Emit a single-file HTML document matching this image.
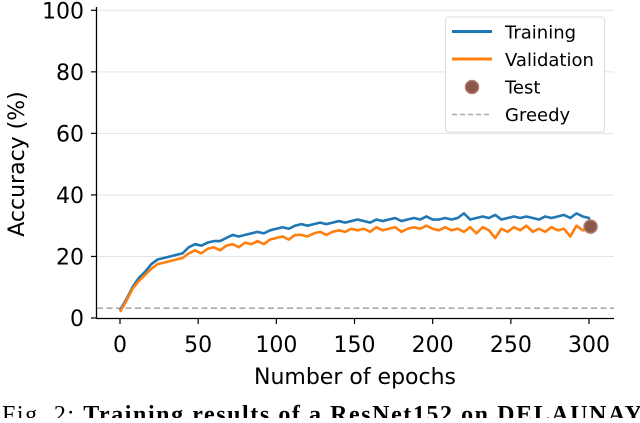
<!DOCTYPE html>
<html><head><meta charset="utf-8"><style>
body{margin:0;background:#fff;width:640px;height:418px;overflow:hidden}
svg text{font-family:"DejaVu Sans","Liberation Sans",sans-serif}
</style></head><body>
<svg id="chart" width="640" height="418" viewBox="0 0 640 418" xmlns="http://www.w3.org/2000/svg">
<g id="grid"></g>
<line x1="96.5" y1="7" x2="96.5" y2="318.5" stroke="#000" stroke-width="1.3"/>
<line x1="96" y1="318.5" x2="614" y2="318.5" stroke="#000" stroke-width="1.3"/>
<g id="ticks"></g>
<g id="series"></g>
<text x="24" y="164" font-size="22" text-anchor="middle" transform="rotate(-90 24 164)">Accuracy (%)</text>
<text x="355" y="384" font-size="22" text-anchor="middle">Number of epochs</text>
<g>
<rect x="445.5" y="17" width="159" height="115" rx="3" fill="#fff" stroke="#ddd" stroke-width="1"/>
<line x1="452" y1="31.5" x2="492" y2="31.5" stroke="#1f77b4" stroke-width="3"/>
<text x="505" y="38.5" font-size="18">Training</text>
<line x1="452" y1="59" x2="492" y2="59" stroke="#ff7f0e" stroke-width="3"/>
<text x="505" y="66" font-size="18">Validation</text>
<circle cx="472" cy="87" r="6.5" fill="#8c564b" stroke="#b07a6f" stroke-width="1.5"/>
<text x="505" y="93.5" font-size="18">Test</text>
<line x1="452" y1="114.5" x2="492" y2="114.5" stroke="#aaa" stroke-width="1.5" stroke-dasharray="5,3"/>
<text x="505" y="121" font-size="18">Greedy</text>
</g>
<text x="2" y="422" font-size="24" textLength="640" lengthAdjust="spacing" style="font-family:'Liberation Serif',serif">Fig. 2: <tspan font-weight="bold">Training results of a ResNet152 on DELAUNAY</tspan></text>
</svg>
<script>
const epochStep = 4;
const trainAcc = [2.5,6,10,13,15,17.5,19,19.5,20,20.5,21,23,24,23.5,24.5,25,25,26,27,26.5,27,27.5,28,27.5,28.5,29,29.5,29,30,30.5,30,30.5,31,30.5,31,31.5,31,31.5,32,31.5,31,32,31.5,32,32.5,31.5,32,32.5,32,33,32,32,32.5,32,32.5,34,32,32.5,33,32.5,33.5,32,32.5,33,32.5,33,32.5,32,33,32.5,33,33.5,32.5,34,33,32.5,32];
const valAcc = [2,5.5,9.5,12,14,16,17.5,18,18.5,19,19.5,21,22,21,22.5,23,22,23.5,24,23,24.5,24,25,24,25.5,26,26.5,25.5,27,27,26.5,27.5,28,27,28,28.5,28,29,28.5,29,28,29.5,28.5,29,29.5,28,29,29.5,29,30,29,28.5,29.5,28.5,29,28,29.5,27.5,29.5,28.5,26,29,28,29.5,28.5,30,28,29,28,29.5,28.5,29,26.5,30,28.5,29,29.5];
const testEpoch = [301];
const testAcc = [29.7];
const greedyAcc = [3.2];
const yTicks = [0,20,40,60,80,100];
const xTicks = [0,50,100,150,200,250,300];

const NS="http://www.w3.org/2000/svg";
function X(e){return 120+e*(589-120)/300;}
function Y(v){return 318-v*(318-10.3)/100;}
function mk(tag,attrs,parent){const el=document.createElementNS(NS,tag);for(const k in attrs)el.setAttribute(k,attrs[k]);parent.appendChild(el);return el;}
const grid=document.getElementById('grid'),ticks=document.getElementById('ticks'),series=document.getElementById('series');
yTicks.forEach(v=>{
  if(v>0){const g=mk('line',{x1:97,x2:614,y1:Y(v),y2:Y(v),stroke:'#e3e3e3','stroke-width':1},grid);
  
  }
  const t=mk('line',{x1:91,x2:96,y1:Y(v),y2:Y(v),stroke:'#000','stroke-width':1.2},ticks);
  
  
  const l=mk('text',{x:84,y:Y(v)+8,'font-size':22,'text-anchor':'end'},ticks);l.textContent=v;
  
  
});
xTicks.forEach(v=>{
  const t=mk('line',{x1:X(v),x2:X(v),y1:318,y2:324,stroke:'#000','stroke-width':1.2},ticks);
  
  
  const l=mk('text',{x:X(v),y:352,'font-size':22,'text-anchor':'middle'},ticks);l.textContent=v;
  
  
});
const gr=mk('line',{x1:97,x2:614,y1:Y(greedyAcc[0]),y2:Y(greedyAcc[0]),stroke:'#aaa','stroke-width':1.6,'stroke-dasharray':'6,3.5'},series);


function line(arr,color,name){
  const pts=arr.map((v,i)=>X(Math.min(i*epochStep,300))+','+Y(v)).join(' ');
  const p=mk('polyline',{points:pts,fill:'none',stroke:color,'stroke-width':2.6,'stroke-linejoin':'round'},series);
  
  
}
line(trainAcc,'#1f77b4','training-line');
line(valAcc,'#ff7f0e','validation-line');
testAcc.forEach((v,i)=>{
  const c=mk('circle',{cx:X(testEpoch[i]),cy:Y(v),r:6.5,fill:'#8c564b',stroke:'#b07a6f','stroke-width':1.5},series);
  
  
});
</script>
</body></html>
